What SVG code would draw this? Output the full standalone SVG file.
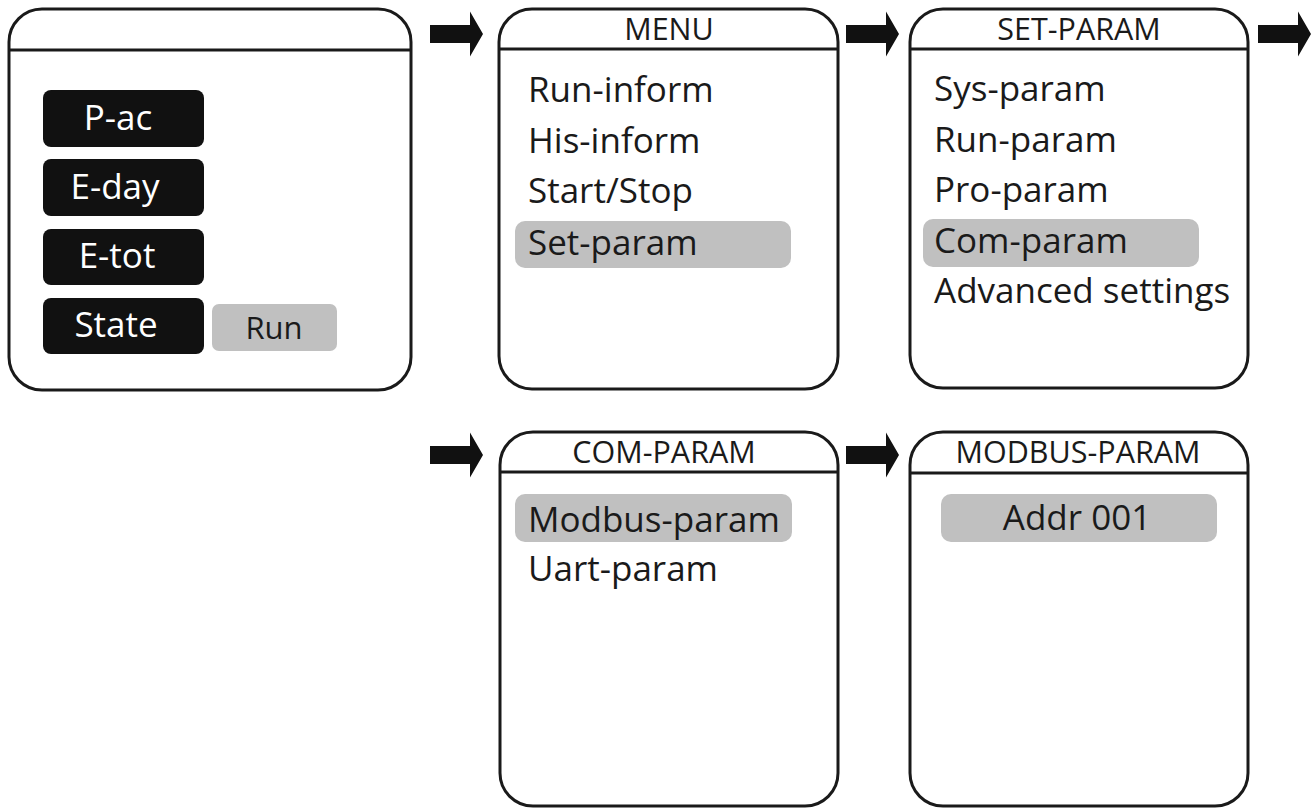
<svg xmlns="http://www.w3.org/2000/svg" width="1315" height="809" viewBox="0 0 1315 809">
<style>
.panel{fill:#fff;stroke:#1a1a1a;stroke-width:3}
.hline{stroke:#1a1a1a;stroke-width:3}
.hdr{font-family:"Open Sans","Noto Sans",sans-serif;font-size:30.5px;fill:#1a1a1a;text-anchor:middle}
.item{font-family:"Open Sans","Noto Sans",sans-serif;font-size:35px;fill:#1a1a1a}
.hl{fill:#c0c0c0}
.blk{fill:#111}
.wt{font-family:"Open Sans","Noto Sans",sans-serif;font-size:35px;fill:#fff;text-anchor:middle}
.arrow{fill:#111}
</style>
<defs>
<path id="arr" d="M0,-9 H40 V-22.5 L53,0 L40,22.5 V9 H0 Z"/>
</defs>
<g id="connectors">
<use href="#arr" class="arrow" x="430" y="34"/>
<use href="#arr" class="arrow" x="846" y="34"/>
<use href="#arr" class="arrow" x="1258" y="34"/>
<use href="#arr" class="arrow" x="430" y="455"/>
<use href="#arr" class="arrow" x="846" y="455"/>
</g>
<g id="home">
<rect class="panel" x="9" y="9" width="402" height="381" rx="33"/>
<line class="hline" x1="9" y1="50" x2="411" y2="50"/>
<rect class="blk" x="43" y="90" width="161" height="57" rx="8"/>
<text class="wt" x="118" y="130">P-ac</text>
<rect class="blk" x="43" y="159" width="161" height="57" rx="8"/>
<text class="wt" x="115" y="199">E-day</text>
<rect class="blk" x="43" y="229" width="161" height="56" rx="8"/>
<text class="wt" x="117" y="268">E-tot</text>
<rect class="blk" x="43" y="298" width="161" height="56" rx="8"/>
<text class="wt" x="116" y="337">State</text>
<rect class="hl" x="212" y="304" width="125" height="47" rx="7"/>
<text x="274" y="339" style="font-family:'Open Sans','Noto Sans',sans-serif;font-size:31px;fill:#1a1a1a;text-anchor:middle">Run</text>
</g>
<g id="menu">
<rect class="panel" x="499" y="9" width="339" height="380" rx="33"/>
<line class="hline" x1="499" y1="49" x2="838" y2="49"/>
<text class="hdr" x="669" y="40">MENU</text>
<text class="item" x="528" y="102">Run-inform</text>
<text class="item" x="528" y="153">His-inform</text>
<text class="item" x="528" y="203">Start/Stop</text>
<rect class="hl" x="515" y="221" width="276" height="47" rx="10"/>
<text class="item" x="528" y="255">Set-param</text>
</g>
<g id="set-param">
<rect class="panel" x="910" y="9" width="338" height="379" rx="33"/>
<line class="hline" x1="910" y1="49" x2="1248" y2="49"/>
<text class="hdr" x="1079" y="40">SET-PARAM</text>
<text class="item" x="934" y="101">Sys-param</text>
<text class="item" x="934" y="152">Run-param</text>
<text class="item" x="934" y="202">Pro-param</text>
<rect class="hl" x="923" y="219" width="276" height="48" rx="10"/>
<text class="item" x="934" y="253">Com-param</text>
<text class="item" x="934" y="303">Advanced settings</text>
</g>
<g id="com-param">
<rect class="panel" x="500" y="432" width="338" height="374" rx="33"/>
<line class="hline" x1="500" y1="472" x2="838" y2="472"/>
<text class="hdr" x="664" y="463">COM-PARAM</text>
<rect class="hl" x="515" y="494" width="277" height="48" rx="10"/>
<text class="item" x="528" y="532">Modbus-param</text>
<text class="item" x="528" y="581">Uart-param</text>
</g>
<g id="modbus-param">
<rect class="panel" x="910" y="432" width="338" height="374" rx="33"/>
<line class="hline" x1="910" y1="473" x2="1248" y2="473"/>
<text class="hdr" x="1078" y="463">MODBUS-PARAM</text>
<rect class="hl" x="941" y="494" width="276" height="48" rx="10"/>
<text class="item" x="1077" y="530" text-anchor="middle">Addr 001</text>
</g>
</svg>
